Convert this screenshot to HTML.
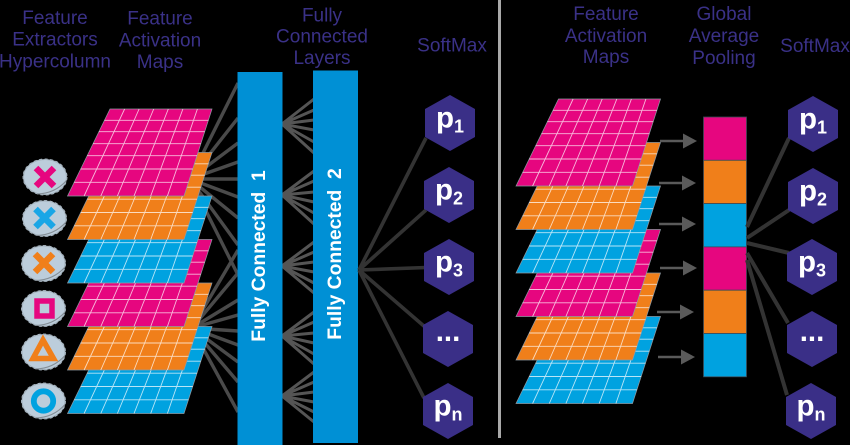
<!DOCTYPE html>
<html>
<head>
<meta charset="utf-8">
<style>
html,body{margin:0;padding:0;background:#000;width:850px;height:445px;overflow:hidden}
svg{display:block}
text{font-family:"Liberation Sans",Arial,sans-serif}
.t{fill:#3a3187;font-size:19px;text-anchor:middle}
.h{fill:#fff;font-size:29.5px;font-weight:bold;text-anchor:middle}
.s{font-size:18px}
.f{fill:#fff;font-size:19.3px;font-weight:bold;text-anchor:middle}
</style>
</head>
<body>
<svg width="850" height="445" viewBox="0 0 850 445" xmlns="http://www.w3.org/2000/svg">
<defs>
<g id="sheet">
<polygon points="110,0 212,0 184,87 67.5,87" stroke="#8f9aa3" stroke-width="0.7"/>
<path fill="none" stroke="#fff" stroke-opacity="0.72" stroke-width="0.9" d="M104.5,11.3H208.4M98.9,22.7H204.7M93,34.7H200.8M87.2,46.7H197M80.7,60H192.7M74.2,73.3H188.4M124.6,0L84.1,87M139.1,0L100.8,87M153.7,0L117.4,87M168.3,0L134,87M182.9,0L150.7,87M197.4,0L167.4,87"/>
</g>
<g id="chip">
<ellipse cx="0" cy="0.500" rx="21.500" ry="17.500" fill="#bccddb" stroke="#a5b3be" stroke-width="1"/>
<ellipse cx="0" cy="0.500" rx="21.900" ry="17.900" fill="none" stroke="#a5b3be" stroke-width="1.200" stroke-dasharray="3 2.500"/>
<path d="M-8,17.500 Q10,17 21.500,4" fill="none" stroke="#848e96" stroke-width="1.100"/>
</g>
<g id="stack">
<use href="#sheet" y="217.5" fill="#00a2e0"/>
<use href="#sheet" y="174" fill="#f07f1a"/>
<use href="#sheet" y="130.5" fill="#e6067f"/>
<use href="#sheet" y="87" fill="#00a2e0"/>
<use href="#sheet" y="43.5" fill="#f07f1a"/>
<use href="#sheet" y="0" fill="#e6067f"/>
</g>
<polygon id="hex" points="0,-28 25,-14 25,14 0,28 -25,14 -25,-14" fill="#3a2f87"/>
<polygon id="head" points="0,0 -14,-7.5 -14,7.5" fill="#5a5a5a"/>
</defs>

<rect width="850" height="445" fill="#000"/>
<rect x="498" y="0" width="3" height="438" fill="#a9a9a9"/>

<!-- Titles -->
<text class="t"><tspan x="55" y="24">Feature</tspan><tspan x="55" y="45.7">Extractors</tspan><tspan x="55" y="67.5">Hypercolumn</tspan></text>
<text class="t"><tspan x="160" y="24.5">Feature</tspan><tspan x="160" y="46.3">Activation</tspan><tspan x="160" y="68">Maps</tspan></text>
<text class="t"><tspan x="322" y="21.5">Fully</tspan><tspan x="322" y="42.7">Connected</tspan><tspan x="322" y="64">Layers</tspan></text>
<text class="t" x="452" y="51.5">SoftMax</text>
<text class="t"><tspan x="606" y="20">Feature</tspan><tspan x="606" y="42">Activation</tspan><tspan x="606" y="63">Maps</tspan></text>
<text class="t"><tspan x="724" y="20">Global</tspan><tspan x="724" y="42">Average</tspan><tspan x="724" y="64">Pooling</tspan></text>
<text class="t" x="815" y="52">SoftMax</text>

<!-- Stack to FC1 -->
<path fill="none" stroke="#4a4a4a" stroke-width="3.400" d="M190,179L238,83M190,179L238,118M190,179L238,143M190,179L238,162M190,179L238,179M190,179L238,197M190,179L238,218M190,179L238,245M190,179L238,275M192,328L238,250M192,328L238,273M192,328L238,300M192,328L238,315M192,328L238,331M192,328L238,345M192,328L238,362M192,328L238,382M192,328L238,412"/>

<!-- Left stack -->
<use href="#stack" y="109"/>

<!-- Chips -->
<use href="#chip" x="45" y="176.500"/>
<use href="#chip" x="44.500" y="218"/>
<use href="#chip" x="43.500" y="263"/>
<use href="#chip" x="43.500" y="308"/>
<use href="#chip" x="43.500" y="351.500"/>
<use href="#chip" x="43.500" y="400.500"/>
<path d="M36,168L54,186M54,168L36,186" stroke="#e6067f" stroke-width="6.500" fill="none"/>
<path d="M35.500,209L53.500,227M53.500,209L35.500,227" stroke="#19a6e6" stroke-width="6.500" fill="none"/>
<path d="M35,254L53,272M53,254L35,272" stroke="#f07f1a" stroke-width="6.500" fill="none"/>
<rect x="37" y="301" width="15" height="15" fill="none" stroke="#e6067f" stroke-width="5.500"/>
<path d="M43,340L53.500,358.500H33Z" fill="none" stroke="#f07f1a" stroke-width="5.500"/>
<circle cx="43.500" cy="401" r="9.700" fill="none" stroke="#00a2e0" stroke-width="5.800"/>

<!-- FC fans -->
<path fill="none" stroke="#555" stroke-width="3" d="M282,124L314,99M282,124L314,110M282,124L314,120M282,124L314,130M282,124L314,142M282,124L314,153M282,195L314,171M282,195L314,181M282,195L314,192M282,195L314,202M282,195L314,213M282,195L314,224M282,266L314,242M282,266L314,252M282,266L314,262M282,266L314,272M282,266L314,283M282,266L314,293M282,336L314,312M282,336L314,322M282,336L314,333M282,336L314,343M282,336L314,354M282,336L314,364M282,396L314,372M282,396L314,382M282,396L314,392M282,396L314,402M282,396L314,412M282,396L314,422"/>

<!-- FC bars -->
<rect x="237.500" y="72" width="45" height="373" fill="#0090d5"/>
<rect x="313" y="70.500" width="45" height="372.500" fill="#0090d5"/>
<text class="f" transform="translate(265,256) rotate(-90)" xml:space="preserve">Fully Connected  1</text>
<text class="f" transform="translate(341,254) rotate(-90)" xml:space="preserve">Fully Connected  2</text>

<!-- FC2 to hex -->
<path fill="none" stroke="#333" stroke-width="3.600" d="M359,270L426,138M359,270L426,210M359,270L426,267.500M359,270L425,327M359,270L424,398"/>

<!-- Left hexagons -->
<use href="#hex" x="450" y="123"/>
<use href="#hex" x="449" y="195"/>
<use href="#hex" x="449" y="267"/>
<use href="#hex" x="448" y="339"/>
<use href="#hex" x="448" y="411"/>
<text class="h" x="450" y="127.500">p<tspan class="s" dy="5">1</tspan></text>
<text class="h" x="449" y="199.500">p<tspan class="s" dy="5">2</tspan></text>
<text class="h" x="449" y="271.500">p<tspan class="s" dy="5">3</tspan></text>
<text class="h" x="448" y="341">...</text>
<text class="h" x="448" y="415.500">p<tspan class="s" dy="5">n</tspan></text>

<!-- Right stack -->
<use href="#stack" x="448.500" y="99"/>

<!-- Arrows -->
<path fill="none" stroke="#5a5a5a" stroke-width="2.500" d="M660,141H684M659,183H683M659,224H683M660,268H684M657,312H680M658,357H681"/>
<use href="#head" x="697" y="141"/>
<use href="#head" x="696" y="183"/>
<use href="#head" x="696" y="224"/>
<use href="#head" x="697" y="268"/>
<use href="#head" x="694" y="312"/>
<use href="#head" x="695" y="357"/>

<!-- Pooling column -->
<g stroke="#3c4a55" stroke-width="0.800">
<rect x="703.500" y="117" width="43" height="43.300" fill="#e6067f"/>
<rect x="703.500" y="160.300" width="43" height="43.300" fill="#f07f1a"/>
<rect x="703.500" y="203.600" width="43" height="43.300" fill="#00a2e0"/>
<rect x="703.500" y="246.900" width="43" height="43.300" fill="#e6067f"/>
<rect x="703.500" y="290.200" width="43" height="43.300" fill="#f07f1a"/>
<rect x="703.500" y="333.500" width="43" height="43.300" fill="#00a2e0"/>
</g>

<!-- Column to hex -->
<path fill="none" stroke="#333" stroke-width="4" d="M747,227L789,138M747,238L789,210M747,243L789,253M747,253L788,323M747,260L787,395"/>

<!-- Right hexagons -->
<use href="#hex" x="813" y="124"/>
<use href="#hex" x="813" y="196"/>
<use href="#hex" x="812" y="267"/>
<use href="#hex" x="812" y="339"/>
<use href="#hex" x="811" y="411"/>
<text class="h" x="813" y="128.500">p<tspan class="s" dy="5">1</tspan></text>
<text class="h" x="813" y="200.500">p<tspan class="s" dy="5">2</tspan></text>
<text class="h" x="812" y="271.500">p<tspan class="s" dy="5">3</tspan></text>
<text class="h" x="812" y="341">...</text>
<text class="h" x="811" y="415.500">p<tspan class="s" dy="5">n</tspan></text>
</svg>
</body>
</html>
